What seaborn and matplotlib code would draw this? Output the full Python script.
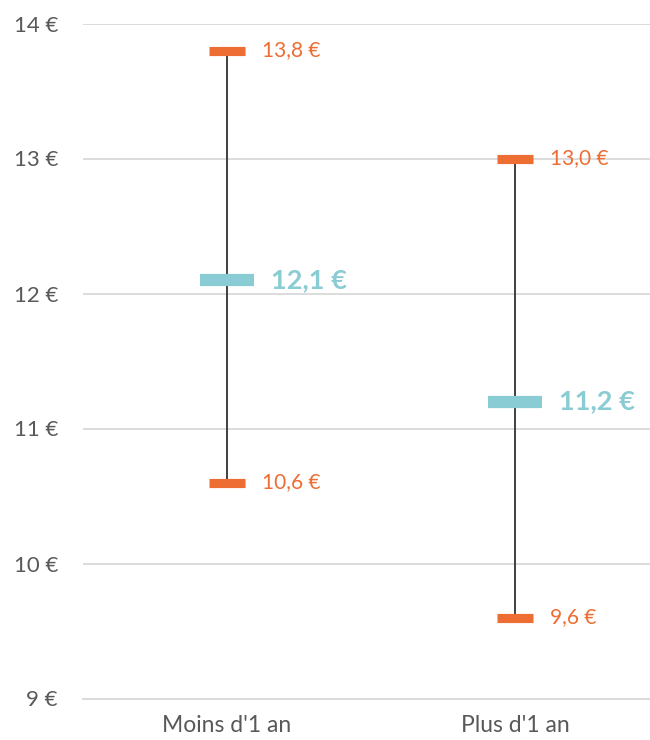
import matplotlib
matplotlib.use("Agg")
import matplotlib.pyplot as plt
import seaborn as sns
import pandas as pd

# Price ranges per customer seniority
categories = ["Moins d'1 an", "Plus d'1 an"]
low_values = [10.6, 9.6]
mid_values = [12.1, 11.2]
high_values = [13.8, 13.0]
y_ticks = [9, 10, 11, 12, 13, 14]

ORANGE = "#ED6D32"
TEAL = "#8ACCD3"
GRID = "#D9D9D9"
TEXT = "#595959"

sns.set_theme(style="white")
plt.rcParams["font.family"] = ["Lato", "DejaVu Sans"]

fig = plt.figure(figsize=(6.5, 7.4), dpi=100)
ax = fig.add_axes([83 / 650, 41.5 / 740, (650 - 83) / 650, 675 / 740])

x_pos = list(range(len(categories)))

# range whiskers
ax.vlines(x_pos, low_values, high_values, color="#3F3F3F", linewidth=1.4, zorder=2)

extremes = pd.DataFrame({
    "x": x_pos * 2,
    "y": low_values + high_values,
})
mids = pd.DataFrame({"x": x_pos, "y": mid_values})

# flat bar markers: width from marker size, thickness from line width
sns.scatterplot(data=extremes, x="x", y="y", ax=ax, marker="_",
                s=26.6 ** 2, color=ORANGE, linewidth=6.6, zorder=3)
sns.scatterplot(data=mids, x="x", y="y", ax=ax, marker="_",
                s=38.9 ** 2, color=TEAL, linewidth=8.8, zorder=3)

def fmt(v):
    return f"{v:.1f}".replace(".", ",") + " €"

for x, v in zip(extremes["x"], extremes["y"]):
    ax.annotate(fmt(v), (x, v), xytext=(25, 0), textcoords="offset points",
                ha="left", va="center", color=ORANGE, fontsize=15)
for x, v in zip(mids["x"], mids["y"]):
    ax.annotate(fmt(v), (x, v), xytext=(32, 0), textcoords="offset points",
                ha="left", va="center", color=TEAL, fontsize=19.5, fontweight="bold")

ax.set_xlim(-0.5, (650 - 227) / 288)
ax.set_ylim(9, 14)
ax.set_yticks(y_ticks)
ax.set_yticklabels([f"{t} €" for t in y_ticks])
ax.set_xticks(x_pos)
ax.set_xticklabels(categories)
ax.set_xlabel("")
ax.set_ylabel("")

ax.grid(axis="y", color=GRID, linewidth=1.3)
ax.set_axisbelow(True)
for side in ["top", "right", "left"]:
    ax.spines[side].set_visible(False)
ax.spines["bottom"].set_color(GRID)
ax.spines["bottom"].set_linewidth(1.3)
ax.tick_params(axis="y", length=0, pad=18, labelsize=16, labelcolor=TEXT)
ax.tick_params(axis="x", length=0, pad=12, labelsize=16.5, labelcolor=TEXT)

fig.savefig("out.png", dpi=100)
